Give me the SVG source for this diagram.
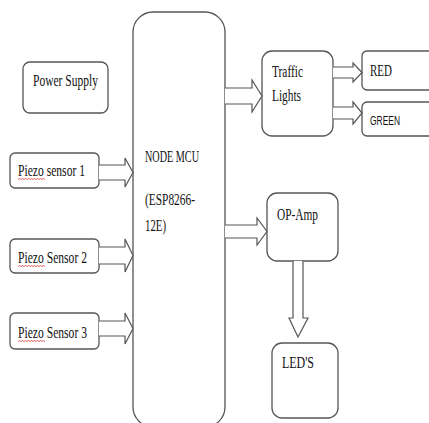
<svg xmlns="http://www.w3.org/2000/svg" width="429" height="423" viewBox="0 0 429 423">
<style>
.box{fill:#fff;stroke:#555;stroke-width:1.3}
.arr{fill:#fff;stroke:#555;stroke-width:1.2;stroke-linejoin:miter}
.t{font-family:"Liberation Serif","Times New Roman",serif;font-size:17px;fill:#111}
.s{font-family:"Liberation Sans",Arial,sans-serif;font-size:13px;fill:#111}
.sq{fill:none;stroke:#d33;stroke-width:0.8}
</style>
<rect width="429" height="423" fill="#fff"/>
<g id="power-supply"><rect class="box" x="23" y="62" width="85" height="51" rx="7"/><text class="t" x="33" y="86" textLength="65" lengthAdjust="spacingAndGlyphs">Power Supply</text></g>
<g id="node-mcu"><rect class="box" x="133" y="12" width="92" height="415" rx="20"/>
<text class="t" x="145" y="162" textLength="54" lengthAdjust="spacingAndGlyphs">NODE MCU</text>
<text class="t" x="145" y="205" textLength="50" lengthAdjust="spacingAndGlyphs">(ESP8266-</text>
<text class="t" x="145" y="231" textLength="21" lengthAdjust="spacingAndGlyphs">12E)</text></g>
<g id="traffic-lights"><rect class="box" x="262" y="51" width="71" height="85" rx="10"/>
<text class="t" x="272" y="77" textLength="31" lengthAdjust="spacingAndGlyphs">Traffic</text>
<text class="t" x="272" y="101" textLength="29" lengthAdjust="spacingAndGlyphs">Lights</text></g>
<g id="red"><rect class="box" x="362" y="51" width="72" height="39" rx="5"/><text class="t" x="370" y="76" textLength="22" lengthAdjust="spacingAndGlyphs">RED</text></g>
<g id="green"><rect class="box" x="362" y="102" width="72" height="34" rx="5"/><text class="s" x="370" y="125" textLength="30" lengthAdjust="spacingAndGlyphs">GREEN</text></g>
<g id="piezo1"><rect class="box" x="10" y="153" width="89" height="35" rx="5"/><text class="t" x="18" y="176" textLength="67" lengthAdjust="spacingAndGlyphs">Piezo sensor 1</text><path class="sq" d="M18 179.5 l1.5 -1 l1.5 1 l1.5 -1 l1.5 1 l1.5 -1 l1.5 1 l1.5 -1 l1.5 1 l1.5 -1 l1.5 1 l1.5 -1 l1.5 1 l1.5 -1 l1.5 1 l1.5 -1 l1.5 1 l1.5 -1 l1.5 1"/></g>
<g id="piezo2"><rect class="box" x="10" y="239" width="89" height="34" rx="5"/><text class="t" x="18" y="263" textLength="69" lengthAdjust="spacingAndGlyphs">Piezo Sensor 2</text><path class="sq" d="M18 266.5 l1.5 -1 l1.5 1 l1.5 -1 l1.5 1 l1.5 -1 l1.5 1 l1.5 -1 l1.5 1 l1.5 -1 l1.5 1 l1.5 -1 l1.5 1 l1.5 -1 l1.5 1 l1.5 -1 l1.5 1 l1.5 -1 l1.5 1"/></g>
<g id="piezo3"><rect class="box" x="10" y="313" width="89" height="36" rx="5"/><text class="t" x="18" y="338" textLength="69" lengthAdjust="spacingAndGlyphs">Piezo Sensor 3</text><path class="sq" d="M18 341.5 l1.5 -1 l1.5 1 l1.5 -1 l1.5 1 l1.5 -1 l1.5 1 l1.5 -1 l1.5 1 l1.5 -1 l1.5 1 l1.5 -1 l1.5 1 l1.5 -1 l1.5 1 l1.5 -1 l1.5 1 l1.5 -1 l1.5 1"/></g>
<g id="op-amp"><rect class="box" x="267" y="193" width="71" height="68" rx="10"/><text class="t" x="277" y="220" textLength="41" lengthAdjust="spacingAndGlyphs">OP-Amp</text></g>
<g id="leds"><rect class="box" x="272" y="343" width="66" height="75" rx="10"/><text class="t" x="282" y="368" textLength="32" lengthAdjust="spacingAndGlyphs">LED'S</text></g>
<g id="connectors">
<path class="arr" d="M225 88 H252 V80 L262 96 L252 112 V104 H225"/>
<path class="arr" d="M333 67 H353 V63 L362 72.5 L353 82 V78 H333"/>
<path class="arr" d="M333 107 H353 V102 L362 113 L353 124 V119 H333"/>
<path class="arr" d="M99 165 H125 V158 L133 172.5 L125 187 V180 H99"/>
<path class="arr" d="M99 247 H125 V239 L133 255.5 L125 272 V264 H99"/>
<path class="arr" d="M99 321 H125 V313 L133 328.5 L125 344 V336 H99"/>
<path class="arr" d="M225 225 H257 V218 L267 231.5 L257 245 V238 H225"/>
<path class="arr" d="M293 261 V318 H289 L298 337 L308 318 H303 V261"/>
</g>
</svg>
